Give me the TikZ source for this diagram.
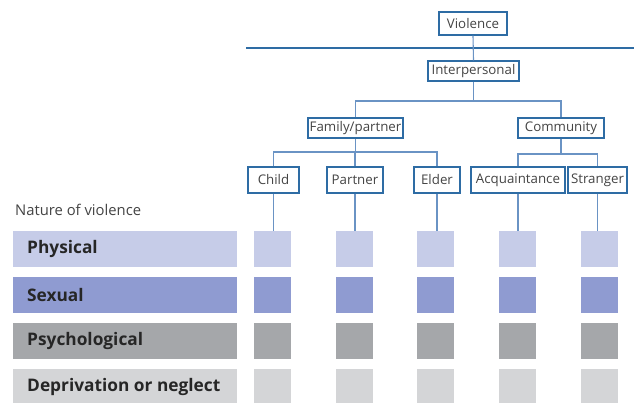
\documentclass[tikz,border=0pt]{standalone}
\usepackage{fontspec}
\setmainfont{Open Sans}
\begin{document}
\begin{tikzpicture}[x=1pt,y=-1pt,
  every node/.style={font=\fontsize{13.3}{15}\selectfont, text=txtgray},
  tbox/.style={draw=boxblue, line width=1.4pt, fill=white, inner sep=0pt, minimum height=20pt},
  leaf/.style={tbox, minimum height=26pt},
  conn/.style={draw=lineblue, line width=1.1pt},
  sq/.style={draw=none, minimum width=37pt, minimum height=36pt, inner sep=0pt},
  bar/.style={draw=none, minimum width=224pt, minimum height=36pt, inner sep=0pt, anchor=west},
  bartext/.style={anchor=west, inner sep=0pt, font=\fontsize{17.3}{19}\selectfont\bfseries, text=black!85},
  c1/.style={fill=rowA}, c2/.style={fill=rowB}, c3/.style={fill=rowC}, c4/.style={fill=rowD}]
\definecolor{boxblue}{HTML}{2E6CA4}
\definecolor{lineblue}{HTML}{6A93C4}
\definecolor{txtgray}{HTML}{444444}
\definecolor{rowA}{HTML}{C6CCE8}
\definecolor{rowB}{HTML}{8F9BD1}
\definecolor{rowC}{HTML}{A5A7AA}
\definecolor{rowD}{HTML}{D4D5D7}
\useasboundingbox[fill=white] (0,0) rectangle (634,403);

% top line
\coordinate (hl) at (246,48);
\coordinate (hr) at (634,48);
\draw[draw=boxblue, line width=1.3pt] (hl) -- (hr);

% tree boxes
\node[tbox, minimum width=68pt, minimum height=23pt] (vio) at (473,23.5) {Violence};
\node[tbox, minimum width=91pt] (inter) at (473.5,71) {Interpersonal};
\node[tbox, minimum width=95pt] (fam) at (355.5,128) {Family/partner};
\node[tbox, minimum width=86pt] (com) at (561,128) {Community};
\node[leaf, minimum width=51pt] (child) at (273.5,180) {Child};
\node[leaf, minimum width=56pt] (part) at (355,180) {Partner};
\node[leaf, minimum width=46pt] (eld) at (437,180) {Elder};
\node[leaf, minimum width=94pt] (acq) at (518,180) {Acquaintance};
\node[leaf, minimum width=59pt] (str) at (597.5,180) {Stranger};

% connectors
\draw[conn] (vio.south) -- (inter.north);
\coordinate (j1) at (473.5,101);
\draw[conn] (inter.south) -- (j1);
\draw[conn] (fam.north) -- (fam.north |- j1) -- (com.north |- j1) -- (com.north);
\coordinate (j2) at (355.5,152);
\draw[conn] (fam.south) -- (j2);
\draw[conn] (child.north) -- (child.north |- j2) -- (eld.north |- j2) -- (eld.north);
\draw[conn] (part.north) -- (part.north |- j2);
\coordinate (j3) at (561,154);
\draw[conn] (com.south) -- (j3);
\draw[conn] (acq.north) -- (acq.north |- j3) -- (str.north |- j3) -- (str.north);

% label column
\node[anchor=west, inner sep=0pt, font=\fontsize{14.8}{16}\selectfont, text=txtgray] (nat) at (15,210) {Nature of violence};
\node[bar, c1] (b1) at (13,249) {};
\node[bar, c2] (b2) at (13,295) {};
\node[bar, c3] (b3) at (13,341) {};
\node[bar, c4, minimum height=34pt] (b4) at (13,386) {};
\node[bartext] (t1) at (27,249) {Physical};
\node[bartext] (t2) at (27,295) {Sexual};
\node[bartext] (t3) at (27,341) {Psychological};
\node[bartext] (t4) at (27,387) {Deprivation or neglect};

% squares
\foreach \n/\x in {1/272.5,2/354,3/435.5,4/517.5,5/599}{
  \node[sq, c1] (s1\n) at (\x,249) {};
  \node[sq, c2] (s2\n) at (\x,295) {};
  \node[sq, c3] (s3\n) at (\x,341) {};
  \node[sq, c4, minimum height=34pt] (s4\n) at (\x,386) {};
}
\draw[conn] (child.south) -- (child.south |- s11.north);
\draw[conn] (part.south) -- (part.south |- s12.north);
\draw[conn] (eld.south) -- (eld.south |- s13.north);
\draw[conn] (acq.south) -- (acq.south |- s14.north);
\draw[conn] (str.south) -- (str.south |- s15.north);
\end{tikzpicture}
\end{document}
